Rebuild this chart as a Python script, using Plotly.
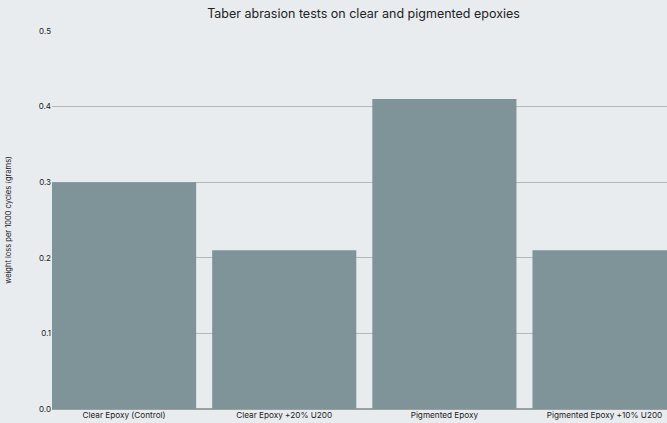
import plotly.graph_objects as go

categories = ["Clear Epoxy (Control)", "Clear Epoxy +20% U200", "Pigmented Epoxy", "Pigmented Epoxy +10% U200"]
weight_loss = [0.30, 0.21, 0.41, 0.21]
y_ticks = [0.0, 0.1, 0.2, 0.3, 0.4, 0.5]

fig = go.Figure(go.Bar(x=categories, y=weight_loss, marker=dict(color="#7e9499", line=dict(width=0)),
                       hoverinfo="skip"))

fig.update_layout(
    width=667, height=423,
    margin=dict(l=52, r=0, t=31, b=14),
    paper_bgcolor="#e8ecef", plot_bgcolor="#e8ecef",
    bargap=0.1,
    showlegend=False,
    font=dict(family="Inter, Roboto, sans-serif", color="#222"),
    title=dict(text="Taber abrasion tests on clear and pigmented epoxies", x=0.545, xanchor="center",
               y=0.968, yanchor="middle", font=dict(size=12.5, color="#222")),
    xaxis=dict(range=[-0.45, 3.39], showgrid=False, ticks="", tickfont=dict(size=8.2, color="#222"),
               showline=False, zeroline=False, ticklen=0, automargin=False),
    yaxis=dict(range=[0, 0.5], tickvals=y_ticks, ticktext=[f"{v:.1f}" for v in y_ticks],
               showgrid=True, gridcolor="#b3b8bb", gridwidth=1, zeroline=True, zerolinecolor="#9a9fa2",
               tickfont=dict(size=8, color="#222"), ticks="", ticklen=0,
               title=dict(text="weight loss per 1000 cycles (grams)", font=dict(size=7.5, color="#222"), standoff=26),
               automargin=False),
)

fig.write_html("out.html", config={"displayModeBar": False},
               post_script="document.body.style.margin='0';document.body.style.background='#e8ecef';")
